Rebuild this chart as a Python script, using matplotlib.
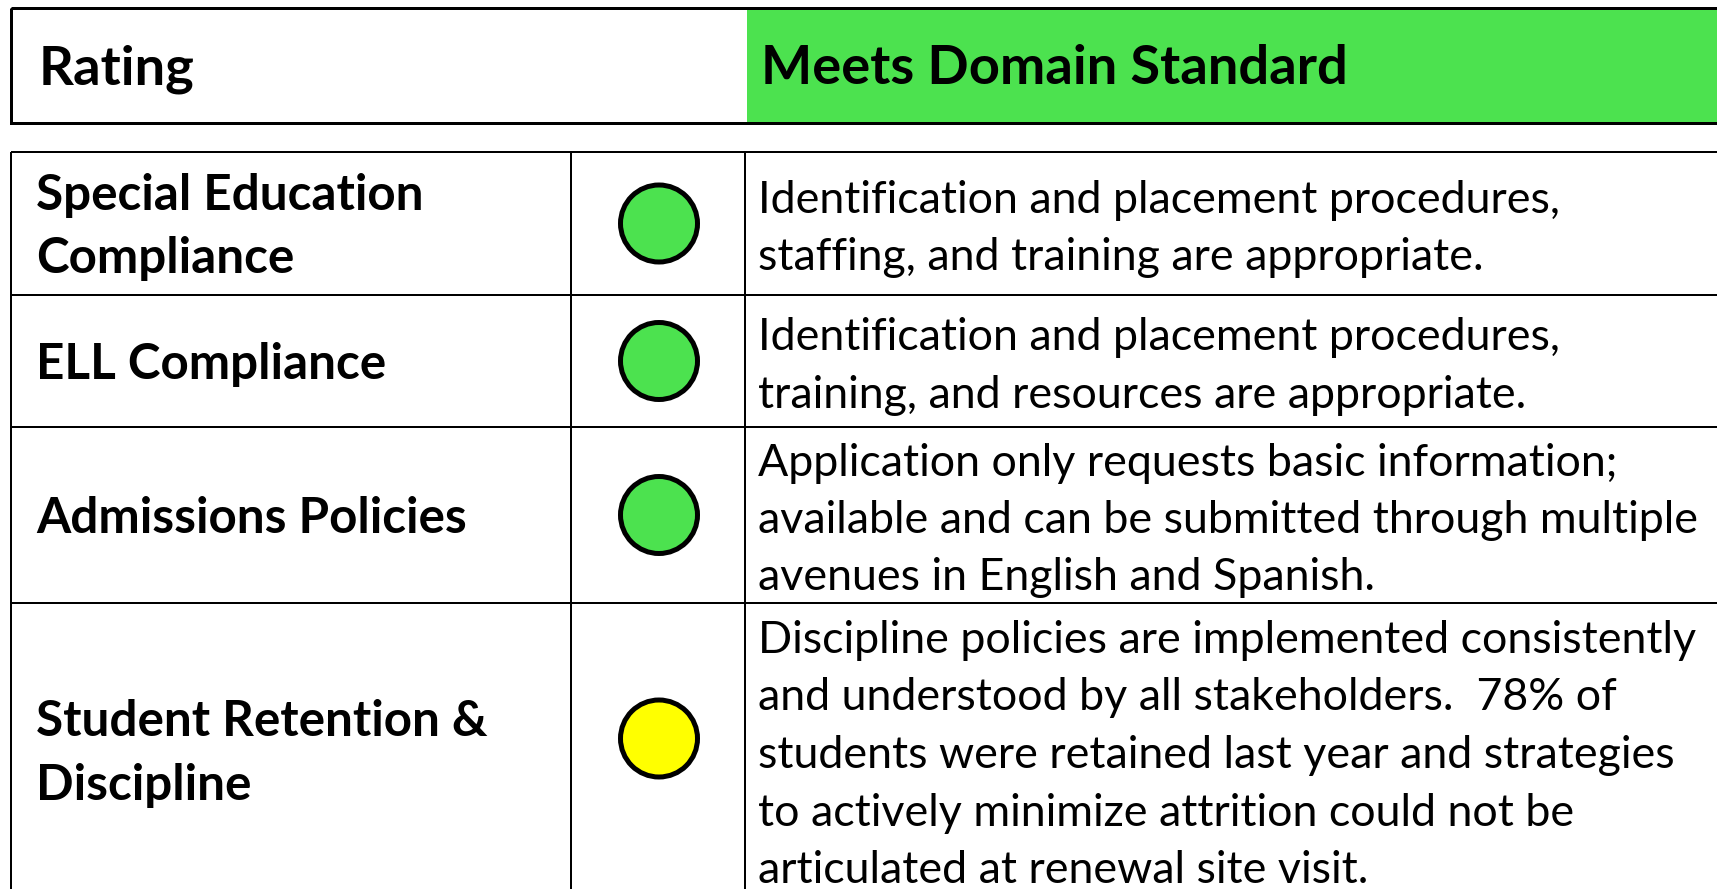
import matplotlib
matplotlib.use("Agg")
import matplotlib.pyplot as plt
from matplotlib.patches import Rectangle, Circle

# ---------------- data ----------------
header_label = "Rating"
header_value = "Meets Domain Standard"
domains = ["Special Education\nCompliance", "ELL Compliance",
           "Admissions Policies", "Student Retention &\nDiscipline"]
statuses = ["green", "green", "green", "yellow"]
descriptions = [
    ["Identification and placement procedures,",
     "staffing, and training are appropriate."],
    ["Identification and placement procedures,",
     "training, and resources are appropriate."],
    ["Application only requests basic information;",
     "available and can be submitted through multiple",
     "avenues in English and Spanish."],
    ["Discipline policies are implemented consistently",
     "and understood by all stakeholders.  78% of",
     "students were retained last year and strategies",
     "to actively minimize attrition could not be",
     "articulated at renewal site visit."],
]
status_colors = {"green": "#4CE24F", "yellow": "#FFFF00"}

# ---------------- layout (pixel units) ----------------
W, H = 1717, 889
FONT = "Lato"
fig = plt.figure(figsize=(W / 100, H / 100), dpi=100)
ax = fig.add_axes([0, 0, 1, 1])
ax.set_xlim(0, W)
ax.set_ylim(H, 0)
ax.axis("off")

px = 72 / 100  # points per pixel
renderer = fig.canvas.get_renderer()


def fit_size(s, weight, target_px):
    t = ax.text(0, 0, s, fontsize=10, family=FONT, weight=weight)
    w = t.get_window_extent(renderer).width
    t.remove()
    return 10 * target_px / w


hdr_size = fit_size(header_value, "bold", 588)
lab_size = fit_size("Student Retention &", "bold", 452)
body_size = fit_size("available and can be submitted through multiple", "normal", 942)

# header box
hx0, hy0, hy1, green_x = 11, 8, 123, 747
ax.add_patch(Rectangle((green_x, hy0), W + 50 - green_x, hy1 - hy0,
                       facecolor=status_colors["green"], edgecolor="none", zorder=1))
ax.add_patch(Rectangle((hx0, hy0), W + 50 - hx0, hy1 - hy0,
                       facecolor="none", edgecolor="black", lw=3 * px, zorder=3))
hbase = (hy0 + hy1) / 2 + 19
ax.text(39, hbase, header_label, fontsize=hdr_size, family=FONT, weight="bold",
        va="baseline", ha="left", zorder=4)
ax.text(761, hbase, header_value, fontsize=hdr_size, family=FONT, weight="bold",
        va="baseline", ha="left", zorder=4)

# table
row_edges = [152, 295, 427, 603, 897]
col_x = [11, 571, 745]
lw_t = 2 * px
for y in row_edges:
    ax.plot([col_x[0], W + 10], [y, y], color="black", lw=lw_t, solid_capstyle="butt", zorder=3)
for x in col_x:
    ax.plot([x, x], [row_edges[0], H + 20], color="black", lw=lw_t, solid_capstyle="butt", zorder=3)

lab_space = 63
body_space = 57.5
circle_x = (col_x[1] + col_x[2]) / 2 + 1
for i, (dom, st, desc) in enumerate(zip(domains, statuses, descriptions)):
    yc = (row_edges[i] + row_edges[i + 1]) / 2
    lines = dom.split("\n")
    n = len(lines)
    for j, ln in enumerate(lines):
        yb = yc + (j - (n - 1) / 2) * lab_space + 18
        ax.text(36, yb, ln, fontsize=lab_size, family=FONT, weight="bold",
                va="baseline", ha="left", zorder=4)
    n = len(desc)
    for j, ln in enumerate(desc):
        yb = yc + (j - (n - 1) / 2) * body_space + 18
        ax.text(758, yb, ln, fontsize=body_size, family=FONT,
                va="baseline", ha="left", zorder=4)
    cy = (row_edges[i] + min(row_edges[i + 1], H - 15)) / 2
    ax.add_patch(Circle((circle_x, cy), 38.5, facecolor=status_colors[st],
                        edgecolor="black", lw=5 * px, zorder=4))

fig.savefig("out.png", dpi=100)
